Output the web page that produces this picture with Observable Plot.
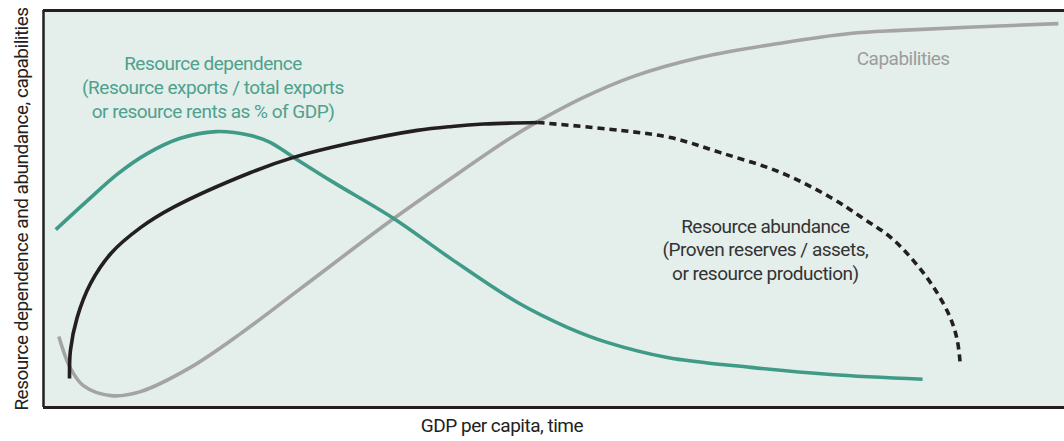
<!DOCTYPE html>
<html>
<head>
<meta charset="utf-8">
<script src="https://cdn.jsdelivr.net/npm/d3@7"></script>
<script src="https://cdn.jsdelivr.net/npm/@observablehq/plot@0.6"></script>
<style>
  html, body { margin: 0; padding: 0; background: #fff; }
  #chart svg { display: block; }
  #chart svg text { letter-spacing: -0.5px; }
</style>
</head>
<body>
<div id="chart"></div>
<script>
// Conceptual chart: x = GDP per capita / time (0–100), y = level (0–100)
const dependenceX = [1.2, 4.3, 7.3, 10.2, 13.4, 16.9, 20.3, 22.2, 24.5, 28.4, 34.3, 39.9, 46.4, 51.3, 55.2, 61.1, 69.3, 77.1, 86.1];
const dependenceY = [44.8, 52.1, 58.9, 64.0, 67.8, 69.5, 68.5, 66.8, 63.0, 56.7, 47.6, 37.5, 26.5, 20.2, 16.4, 12.6, 10.1, 8.3, 7.1];

const abundanceX = [2.55, 2.64, 3.3, 4.6, 6.6, 9.5, 12.7, 20.3, 24.5, 30.1, 36.6, 40.0, 43.1, 48.4];
const abundanceY = [7.3, 14.4, 22.7, 31.2, 38.8, 45.3, 50.4, 59.2, 63.0, 66.6, 69.8, 70.8, 71.4, 71.8];

const abundanceProjX = [48.4, 56.5, 61.4, 66.3, 72.2, 77.1, 80.3, 83.0, 85.2, 87.2, 88.8, 89.5, 89.8];
const abundanceProjY = [71.8, 69.8, 68.0, 64.2, 59.2, 52.9, 47.6, 42.8, 37.0, 30.2, 22.7, 16.9, 10.6];

const capabilitiesX = [1.5, 2.6, 3.9, 6.6, 9.5, 14.4, 19.3, 25.2, 34.3, 39.9, 45.5, 48.4, 52.9, 57.8, 64.4, 72.5, 79.0, 83.9, 99.4];
const capabilitiesY = [17.9, 10.1, 5.5, 3.0, 4.0, 10.1, 18.6, 30.0, 47.6, 57.7, 67.5, 72.0, 78.1, 83.4, 88.2, 91.9, 94.2, 95.0, 96.7];

const dependenceLabel = "Resource dependence\n(Resource exports / total exports\nor resource rents as % of GDP)";
const abundanceLabel = "Resource abundance\n(Proven reserves / assets,\nor resource production)";
const capabilitiesLabel = "Capabilities";
const xLabel = "GDP per capita, time";
const yLabel = "Resource dependence and abundance, capabilities";

const toPts = (xs, ys) => xs.map((x, i) => ({x, y: ys[i]}));
const dependence = toPts(dependenceX, dependenceY);
const abundance = toPts(abundanceX, abundanceY);
const abundanceProj = toPts(abundanceProjX, abundanceProjY);
const capabilities = toPts(capabilitiesX, capabilitiesY);

const FONT = 'Roboto, "Liberation Sans", sans-serif';
const TEAL = "#3f9b87";
const TEAL_TEXT = "#4da18d";
const GRAY = "#a4a4a4";
const DARK = "#231f20";

const chart = Plot.plot({
  width: 1064,
  height: 441,
  marginLeft: 43,
  marginRight: 0,
  marginTop: 10,
  marginBottom: 34,
  style: { fontFamily: FONT, background: "#ffffff", overflow: "visible" },
  x: { domain: [0, 100], axis: null },
  y: { domain: [0, 100], axis: null },
  marks: [
    Plot.frame({ fill: "#e4eeea", stroke: null }),
    Plot.line(capabilities, { x: "x", y: "y", stroke: GRAY, strokeWidth: 3.6, curve: "catmull-rom", strokeLinecap: "butt" }),
    Plot.line(dependence, { x: "x", y: "y", stroke: TEAL, strokeWidth: 3.6, curve: "catmull-rom", strokeLinecap: "butt" }),
    Plot.line(abundance, { x: "x", y: "y", stroke: DARK, strokeWidth: 3.6, curve: "catmull-rom", strokeLinecap: "butt" }),
    Plot.line(abundanceProj, { x: "x", y: "y", stroke: DARK, strokeWidth: 3.6, curve: "catmull-rom", strokeLinecap: "butt", strokeDasharray: "7 5" }),
    // frame borders: left, top, bottom
    Plot.ruleX([0], { stroke: DARK, strokeWidth: 2.5 }),
    Plot.ruleY([100], { stroke: DARK, strokeWidth: 3 }),
    Plot.ruleY([0], { stroke: DARK, strokeWidth: 3 }),
    Plot.text([dependenceLabel], { x: () => 16.6, y: () => 80.9, fill: TEAL_TEXT, fontSize: 19, lineHeight: 1.26, textAnchor: "middle" }),
    Plot.text([abundanceLabel], { x: () => 70.7, y: () => 40.0, fill: "#333333", fontSize: 19, lineHeight: 1.24, textAnchor: "middle" }),
    Plot.text([capabilitiesLabel], { x: () => 84.2, y: () => 87.9, fill: "#9c9c9c", fontSize: 19, textAnchor: "middle" }),
    Plot.text([xLabel], { x: () => 44.9, frameAnchor: "bottom", dy: 24, fill: "#222", fontSize: 19, textAnchor: "middle" }),
    Plot.text([yLabel], { frameAnchor: "left", dx: -22, rotate: -90, fill: "#222", fontSize: 19, textAnchor: "middle" })
  ]
});
document.getElementById("chart").appendChild(chart);
</script>
</body>
</html>
